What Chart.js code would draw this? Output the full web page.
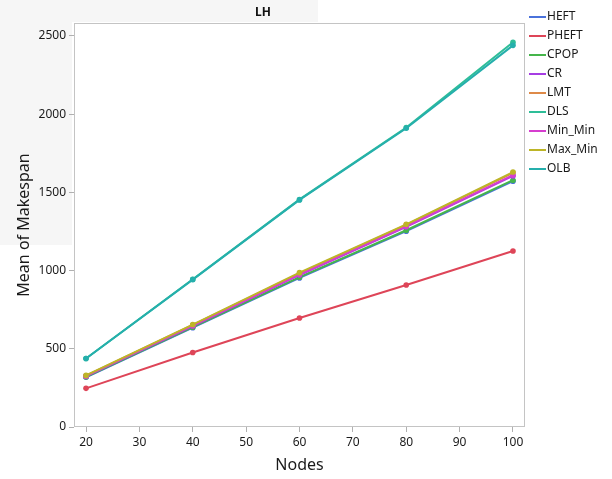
<!DOCTYPE html>
<html>
<head>
<meta charset="utf-8">
<script src="https://cdn.jsdelivr.net/npm/chart.js@4.4.1/dist/chart.umd.min.js"></script>
<style>
html,body{margin:0;padding:0;background:#fff;}
#wrap{width:612px;height:479px;}
</style>
</head>
<body>
<div id="wrap"><canvas id="c" width="612" height="479"></canvas></div>
<script>
const chartTitle = "LH";
const xTitle = "Nodes";
const yTitle = "Mean of Makespan";
const nodes = [20, 40, 60, 80, 100];
const xTicks = [20, 30, 40, 50, 60, 70, 80, 90, 100];
const yTicks = [0, 500, 1000, 1500, 2000, 2500];
const seriesNames = ["HEFT", "PHEFT", "CPOP", "CR", "LMT", "DLS", "Min_Min", "Max_Min", "OLB"];
const heft   = [318, 635, 953, 1252, 1572];
const pheft  = [247, 476, 697, 908, 1125];
const cpop   = [320, 638, 958, 1258, 1578];
const cr     = [325, 645, 972, 1280, 1605];
const lmt    = [328, 652, 982, 1292, 1625];
const dls    = [438, 945, 1455, 1915, 2460];
const minMin = [325, 648, 975, 1283, 1610];
const maxMin = [330, 655, 987, 1296, 1630];
const olb    = [438, 942, 1452, 1910, 2440];
const seriesValues = [heft, pheft, cpop, cr, lmt, dls, minMin, maxMin, olb];
const seriesColors = ["#4A72DB", "#DE4558", "#45B54B", "#A63DE3", "#DE8A48", "#2EBE98", "#D63ECF", "#BDB527", "#25AFAC"];

const datasets = seriesNames.map((name, i) => ({
  label: name,
  data: nodes.map((n, j) => ({x: n, y: seriesValues[i][j]})),
  borderColor: seriesColors[i],
  backgroundColor: seriesColors[i],
  borderWidth: 2,
  pointRadius: 2.8,
  pointHoverRadius: 2.8,
  pointBorderWidth: 0,
  tension: 0,
  order: -i
}));

const FONT = "'Noto Sans', 'Open Sans', sans-serif";

const deco = {
  id: 'deco',
  beforeDraw(chart) {
    const ctx = chart.ctx;
    ctx.save();
    ctx.fillStyle = '#F6F6F6';
    ctx.fillRect(0, 0, 318, 22);
    ctx.fillRect(0, 0, 72, 245);
    ctx.fillStyle = '#111';
    ctx.font = "bold 12px " + FONT;
    ctx.textAlign = 'center';
    ctx.textBaseline = 'middle';
    ctx.fillText(chartTitle, 263, 13);
    ctx.restore();
  },
  beforeDatasetsDraw(chart) {
    const a = chart.chartArea, ctx = chart.ctx;
    ctx.save();
    ctx.strokeStyle = '#C4C4C4';
    ctx.lineWidth = 1;
    ctx.strokeRect(Math.round(a.left) + 0.5, Math.round(a.top) + 0.5, Math.round(a.right - a.left) - 1, Math.round(a.bottom - a.top) - 1);
    ctx.restore();
  },
  afterDraw(chart) {
    const ctx = chart.ctx;
    ctx.save();
    ctx.font = "12px " + FONT;
    ctx.textAlign = 'left';
    ctx.textBaseline = 'middle';
    seriesNames.forEach((name, i) => {
      const y = 17 + i * 19;
      ctx.strokeStyle = seriesColors[i];
      ctx.lineWidth = 2;
      ctx.beginPath();
      ctx.moveTo(529, y);
      ctx.lineTo(546, y);
      ctx.stroke();
      ctx.fillStyle = '#1a1a1a';
      ctx.fillText(name, 547, y);
    });
    ctx.restore();
  }
};

new Chart(document.getElementById('c'), {
  type: 'line',
  data: { datasets },
  options: {
    responsive: false,
    animation: false,
    devicePixelRatio: 1,
    layout: { padding: { left: 0, right: 87, top: 23, bottom: 0 } },
    plugins: { legend: { display: false }, tooltip: { enabled: false }, title: { display: false } },
    scales: {
      x: {
        type: 'linear',
        min: 17.75,
        max: 102.25,
        afterBuildTicks: (s) => { s.ticks = xTicks.map(v => ({value: v})); },
        afterFit: (s) => { s.height = 52; },
        border: { display: false },
        grid: { drawOnChartArea: false, drawTicks: true, tickLength: 5, color: '#B0B0B0' },
        ticks: { color: '#1a1a1a', font: { family: FONT, size: 12 }, padding: 3, maxRotation: 0, callback: (v) => String(v) },
        title: { display: true, text: xTitle, color: '#1a1a1a', font: { family: FONT, size: 16 }, padding: { top: 0, bottom: 4 } }
      },
      y: {
        type: 'linear',
        min: 0,
        max: 2583,
        afterBuildTicks: (s) => { s.ticks = yTicks.map(v => ({value: v})); },
        afterFit: (s) => { s.width = 74; },
        border: { display: false },
        grid: { drawOnChartArea: false, drawTicks: true, tickLength: 5, color: '#B0B0B0' },
        ticks: { color: '#1a1a1a', font: { family: FONT, size: 12 }, padding: 3, callback: (v) => String(v) },
        title: { display: true, text: yTitle, color: '#1a1a1a', font: { family: FONT, size: 16 }, padding: { top: 15, bottom: 0 } }
      }
    }
  },
  plugins: [deco]
});
</script>
</body>
</html>
